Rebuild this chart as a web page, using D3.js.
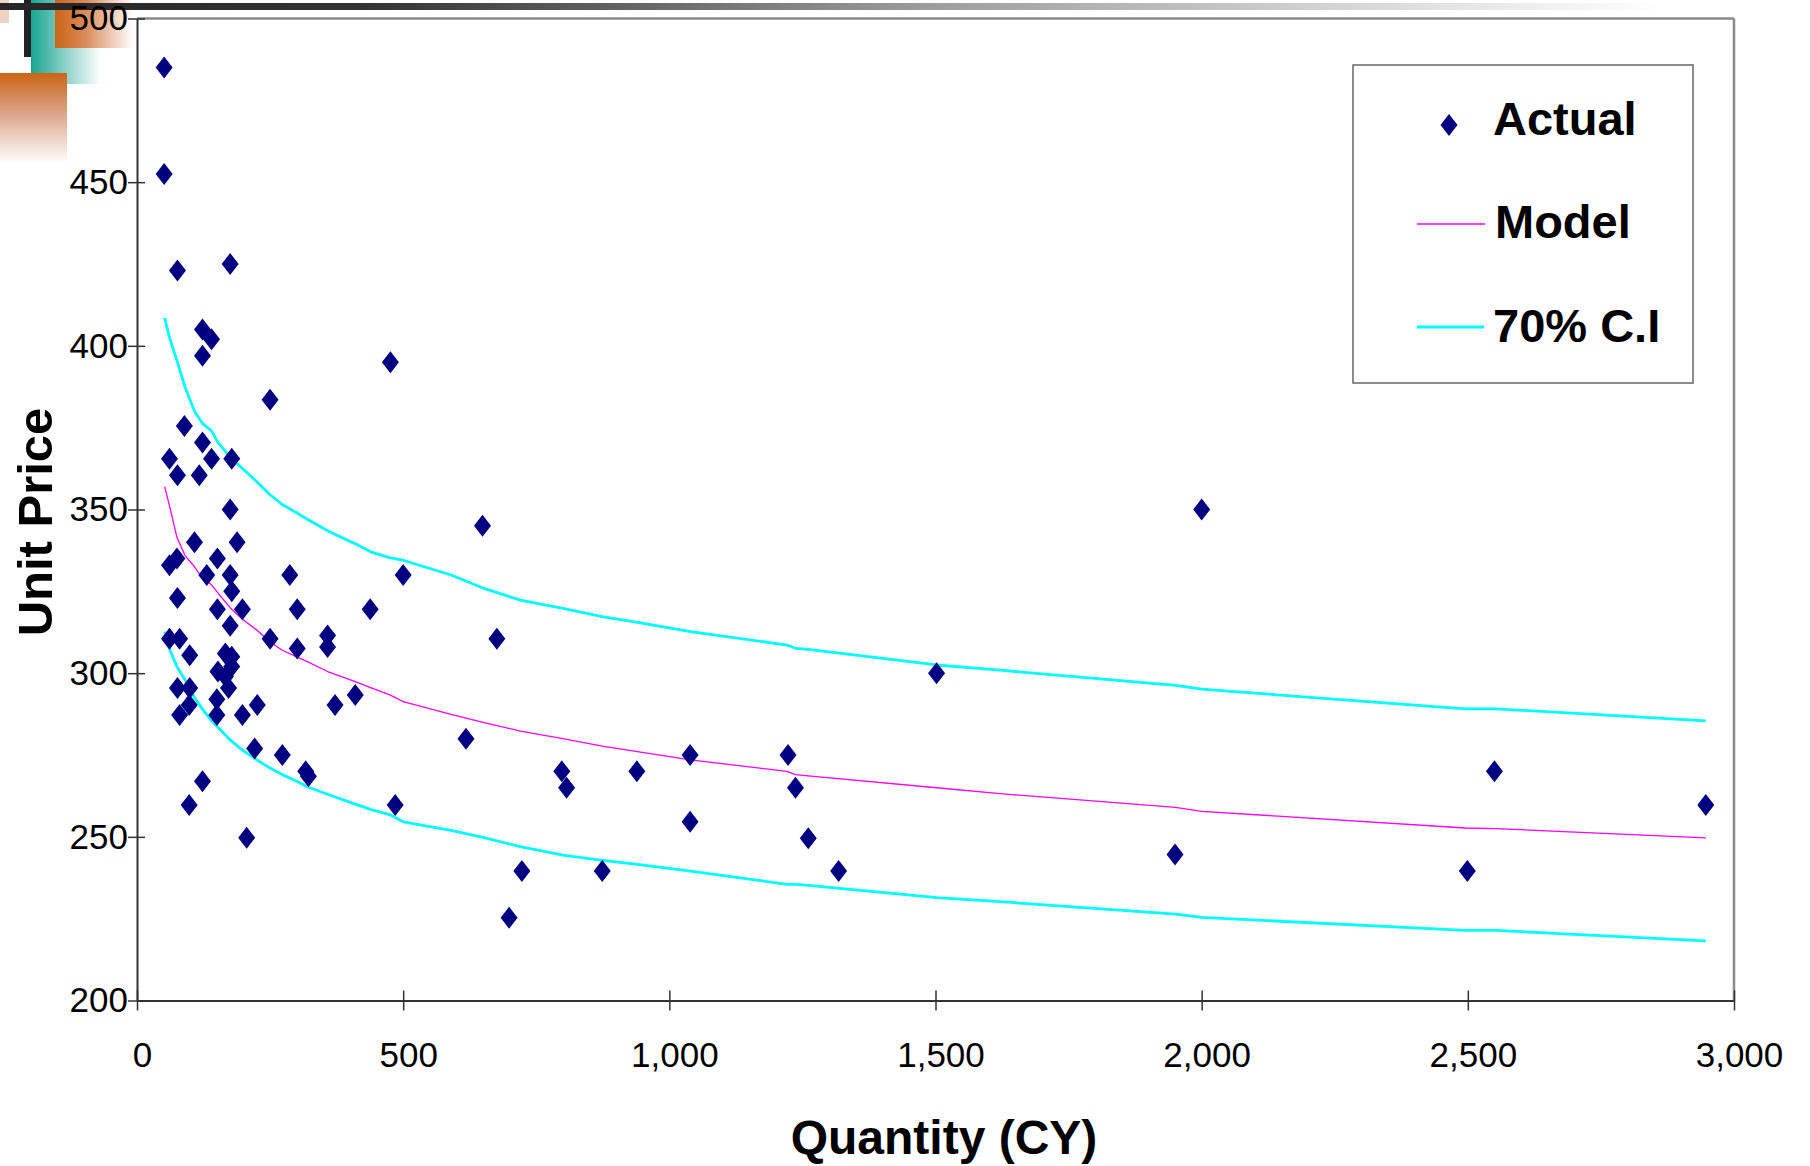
<!DOCTYPE html>
<html>
<head>
<meta charset="utf-8">
<script src="https://cdn.jsdelivr.net/npm/d3@7"></script>
<style>
  html, body { margin: 0; padding: 0; background: #ffffff; }
  svg { display: block; }
  text { font-family: "Liberation Sans", Arial, Helvetica, sans-serif; }
</style>
</head>
<body>
<svg id="chart" width="1810" height="1166"></svg>
<script>
// ---------- data ----------
const quantity = [51,51,76,175,123,140,123,250,476,
  89,123,61,140,178,76,117,175,
  108,188,61,75,151,131,175,287,500,
  76,178,151,198,301,438,175,
  61,80,250,358,358,301,676,
  99,166,178,178,152,166,172,
  76,99,98,150,226,372,410,
  80,150,198,
  221,273,317,322,123,98,206,485,
  618,649,798,807,874,723,699,939,
  1039,1039,1223,1237,1261,1318,1502,
  2000,1950,2499,2550,2947];
const unitPrice = [485,452.5,423,425,405,402,397,383.5,395,
  375.5,370.5,365.5,365.5,365.5,360.5,360.5,350,
  340,340,333,335,335,330,330,330,330,
  323,325,319.5,319.5,319.5,319.5,314.5,
  310.5,310.5,310.5,311.5,308,307.5,310.5,
  305.5,306,305,302,300.5,299,295.5,
  295.5,295.5,290.3,292,290.3,290.3,293.3,
  287.2,287.2,287.2,
  277,275,270,268.5,267,259.7,249.7,259.7,
  280,345,270,265,239.6,239.6,225.3,270,
  275,254.6,275,265,249.6,239.6,300,
  350,244.6,239.6,270,259.7];

const curveQty   = [52,62,75,90,108,123,140,152,175,198,225,250,273,300,320,358,410,440,476,500,590,650,720,800,874,940,1040,1221,1237,1261,1502,1621,1951,2000,2495,2553,2947];
const modelPrice = [357,350.5,341.5,336,332.5,329,327,324.5,320,316.5,313.2,309.5,307,305,303.5,300.5,297.4,295.5,293.3,291.3,287.4,285,282.3,280,277.7,276,273.5,270,269,268.6,265,263.2,259,257.8,252.7,252.5,249.7];
const upperPrice = [408.5,402,395.5,387.5,380,376.3,374,370.5,366,362.5,358.5,354.5,351.5,349,347,343.5,339.5,337,335.2,334.5,330,326,322.3,319.8,317.3,315.5,312.7,308.6,307.6,307.3,302.5,300.9,296.3,295.1,289.1,289.1,285.4];
const lowerPrice = [312.7,307,302,298,292.5,289,285.5,283.5,279.6,276.5,273.5,271,269,267,265.3,263,260,258.3,256.7,254.6,252,249.8,247,244.4,242.8,241.6,239.5,235.5,235.5,235.2,231.4,230.2,226.4,225.4,221.4,221.4,218.2];

const xTicks = [0,500,1000,1500,2000,2500,3000];
const yTicks = [200,250,300,350,400,450,500];
const legendLabels = ["Actual","Model","70% C.I"];
const xTitle = "Quantity (CY)";
const yTitle = "Unit Price";

// ---------- layout ----------
const svg = d3.select("#chart");
const L = 137, R = 1734, T = 18.5, B = 1000.5;
const x = d3.scaleLinear().domain([0,3000]).range([L,R]);
const y = d3.scaleLinear().domain([200,500]).range([B,T]);

// ---------- slide decoration (top-left) ----------
const defs = svg.append("defs");
const gTeal = defs.append("linearGradient").attr("id","gTeal").attr("x1","0").attr("x2","1").attr("y1","0").attr("y2","0");
gTeal.append("stop").attr("offset","0").attr("stop-color","#18a592");
gTeal.append("stop").attr("offset","0.35").attr("stop-color","#6cc4b8");
gTeal.append("stop").attr("offset","1").attr("stop-color","#ffffff");
const gOr = defs.append("linearGradient").attr("id","gOr").attr("x1","0").attr("x2","1").attr("y1","0").attr("y2","0");
gOr.append("stop").attr("offset","0").attr("stop-color","#cc6414");
gOr.append("stop").attr("offset","0.4").attr("stop-color","#d98c5c");
gOr.append("stop").attr("offset","1").attr("stop-color","#ffffff");
const gOrV = defs.append("linearGradient").attr("id","gOrV").attr("x1","0").attr("x2","0").attr("y1","0").attr("y2","1");
gOrV.append("stop").attr("offset","0").attr("stop-color","#cc6414");
gOrV.append("stop").attr("offset","0.45").attr("stop-color","#dba48a");
gOrV.append("stop").attr("offset","1").attr("stop-color","#ffffff");
const gBar = defs.append("linearGradient").attr("id","gBar").attr("x1","0").attr("x2","1").attr("y1","0").attr("y2","0");
gBar.append("stop").attr("offset","0").attr("stop-color","#262626");
gBar.append("stop").attr("offset","0.22").attr("stop-color","#333333");
gBar.append("stop").attr("offset","0.55").attr("stop-color","#9a9a9a");
gBar.append("stop").attr("offset","0.85").attr("stop-color","#dedede");
gBar.append("stop").attr("offset","1").attr("stop-color","#ffffff");

const deco = svg.append("g");
deco.append("rect").attr("x",0).attr("y",0).attr("width",9).attr("height",23).attr("fill","#f0d2c2");
deco.append("rect").attr("x",31).attr("y",0).attr("width",70).attr("height",84).attr("fill","url(#gTeal)");
deco.append("rect").attr("x",55).attr("y",0).attr("width",78).attr("height",48).attr("fill","url(#gOr)");
deco.append("rect").attr("x",0).attr("y",73).attr("width",67).attr("height",90).attr("fill","url(#gOrV)");
deco.append("rect").attr("x",24).attr("y",0).attr("width",7).attr("height",57).attr("fill","#222222");
deco.append("rect").attr("x",0).attr("y",3).attr("width",1660).attr("height",7).attr("fill","url(#gBar)");

// ---------- plot frame ----------
svg.append("rect").attr("x",L).attr("y",T).attr("width",R-L).attr("height",B-T).attr("fill","#ffffff");
svg.append("line").attr("x1",L).attr("x2",R).attr("y1",T).attr("y2",T).attr("stroke","#8a8a8a").attr("stroke-width",2.5);
svg.append("line").attr("x1",R).attr("x2",R).attr("y1",T).attr("y2",B).attr("stroke","#8a8a8a").attr("stroke-width",2.5);

// ---------- axes ----------
const yAxis = svg.append("g").attr("transform",`translate(${L},0)`)
  .call(d3.axisLeft(y).tickValues(yTicks).tickSize(9).tickSizeOuter(0).tickPadding(0).tickFormat(d3.format("d")));
yAxis.selectAll(".tick line").attr("x1",8).attr("x2",-9).attr("stroke","#333").attr("stroke-width",1.5);
yAxis.select(".domain").attr("stroke","#333").attr("stroke-width",2);
yAxis.selectAll(".tick text").attr("font-size",35).attr("fill","#000")
  .attr("font-family","'Liberation Sans', Arial, sans-serif");

const xAxis = svg.append("g").attr("transform",`translate(0,${B})`)
  .call(d3.axisBottom(x).tickValues(xTicks).tickSize(10).tickSizeOuter(0).tickPadding(32).tickFormat(d3.format(",")));
xAxis.selectAll(".tick line").attr("y1",-10).attr("y2",10).attr("stroke","#333").attr("stroke-width",1.5);
xAxis.select(".domain").attr("stroke","#333").attr("stroke-width",2);
xAxis.selectAll(".tick text").attr("font-size",35).attr("fill","#000").attr("x",5)
  .attr("font-family","'Liberation Sans', Arial, sans-serif");

// ---------- lines ----------
const lineGen = (vals) => d3.line().x((d,i)=>x(curveQty[i])).y((d)=>y(d))(vals);
svg.append("path").attr("d",lineGen(upperPrice)).attr("fill","none").attr("stroke","#00ffff").attr("stroke-width",2.8).attr("stroke-linejoin","round");
svg.append("path").attr("d",lineGen(lowerPrice)).attr("fill","none").attr("stroke","#00ffff").attr("stroke-width",2.8).attr("stroke-linejoin","round");
svg.append("path").attr("d",lineGen(modelPrice)).attr("fill","none").attr("stroke","#ff00ff").attr("stroke-width",1.3).attr("stroke-linejoin","round");

// ---------- points ----------
const diamond = "M0,-11L8.5,0L0,11L-8.5,0Z";
svg.append("g").selectAll("path").data(quantity.map((q,i)=>({q, p: unitPrice[i]})))
  .join("path")
  .attr("d",diamond)
  .attr("transform",d=>`translate(${x(d.q)},${y(d.p)})`)
  .attr("fill","#000080");

// ---------- axis titles ----------
svg.append("text").attr("x",944).attr("y",1154).attr("text-anchor","middle")
  .attr("font-size",48).attr("font-weight","bold").attr("fill","#000").text(xTitle);
svg.append("text").attr("transform","translate(52,522) rotate(-90)").attr("text-anchor","middle")
  .attr("font-size",49).attr("font-weight","bold").attr("fill","#000").text(yTitle);

// ---------- legend ----------
const lg = svg.append("g");
lg.append("rect").attr("x",1353).attr("y",65).attr("width",340).attr("height",318)
  .attr("fill","#ffffff").attr("stroke","#666").attr("stroke-width",1.5);
lg.append("path").attr("d",diamond).attr("transform","translate(1449,125)").attr("fill","#000080");
lg.append("line").attr("x1",1417).attr("x2",1485).attr("y1",224).attr("y2",224).attr("stroke","#ff00ff").attr("stroke-width",1.3);
lg.append("line").attr("x1",1417).attr("x2",1484).attr("y1",327).attr("y2",327).attr("stroke","#00ffff").attr("stroke-width",2.8);
const legY = [135,238,342];
const legX = [1493,1495,1493];
lg.selectAll("text.leg").data(legendLabels).join("text").attr("class","leg")
  .attr("x",(d,i)=>legX[i]).attr("y",(d,i)=>legY[i])
  .attr("font-size",47).attr("font-weight","bold").attr("fill","#000").text(d=>d);
</script>
</body>
</html>
